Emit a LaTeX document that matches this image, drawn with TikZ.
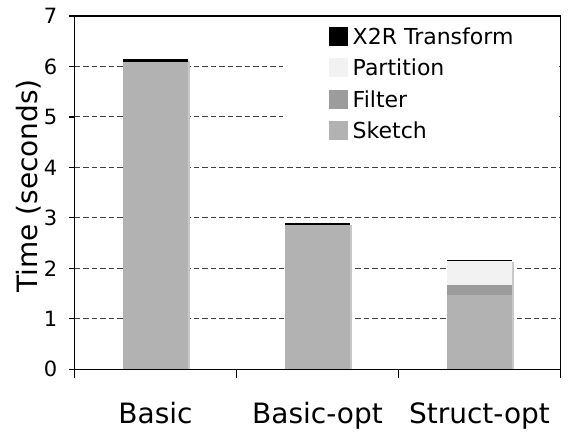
\documentclass[tikz,border=0pt]{standalone}
\usepackage{fontspec}
\setmainfont{DejaVu Sans}
\usetikzlibrary{calc}
\definecolor{sketchgray}{HTML}{B2B2B2}
\definecolor{filtergray}{HTML}{9C9C9C}
\definecolor{partgray}{HTML}{F2F2F2}
\definecolor{shadowgray}{HTML}{C8C8C8}
\tikzset{
	grid line/.style={line width=1pt, color=black!75, dash pattern=on 5.5pt off 3pt},
	axis line/.style={line width=1.2pt, color=black},
	tick label/.style={anchor=east, inner sep=0pt, font=\fontsize{21}{25}\selectfont},
	cat label/.style={anchor=base, inner sep=0pt, font=\fontsize{28}{32}\selectfont},
	key label/.style={anchor=west, inner sep=0pt, font=\fontsize{22}{26}\selectfont},
}

\begin{document}
\begin{tikzpicture}[x=162pt, y=50.47pt]
		%%%%% START %%%%%
		\useasboundingbox (-74.5pt, -62.7pt) rectangle (493.5pt, 369.3pt);
		
		% dashed grid
		\draw[grid line] (0, 1) -- (3, 1);
		\draw[grid line] (0, 2) -- (3, 2);
		\draw[grid line] (0, 3) -- (3, 3);
		\draw[grid line] (0, 4) -- (3, 4);
		\draw[grid line] (0, 5) -- (3, 5);
		\draw[grid line] (0, 6) -- (3, 6);
		
		% bar shadows
		\fill[shadowgray] ($(0.3, 0)+(2pt, 0)$) rectangle ($(0.7, 6.14)+(2pt, -2pt)$);
		\fill[shadowgray] ($(1.3, 0)+(2pt, 0)$) rectangle ($(1.7, 2.89)+(2pt, -2pt)$);
		\fill[shadowgray] ($(2.3, 0)+(2pt, 0)$) rectangle ($(2.7, 2.16)+(2pt, -2pt)$);
		
		% Basic
		\fill[sketchgray] (0.3, 0) rectangle (0.7, 6.09);
		\fill[black] (0.3, 6.09) rectangle (0.7, 6.14);
		
		% Basic-opt
		\fill[sketchgray] (1.3, 0) rectangle (1.7, 2.86);
		\fill[black] (1.3, 2.86) rectangle (1.7, 2.89);
		
		% Struct-opt
		\fill[sketchgray] (2.3, 0) rectangle (2.7, 1.47);
		\fill[filtergray] (2.3, 1.47) rectangle (2.7, 1.67);
		\fill[partgray] (2.3, 1.67) rectangle (2.7, 2.145);
		\fill[black] (2.3, 2.145) rectangle (2.7, 2.16);
		
		% key
		\fill[white] (208.5pt, 224.3pt) rectangle (484.5pt, 349.3pt);
		\fill[black] (254.8pt, 323.1pt) rectangle ++(19pt, 19pt);
		\fill[partgray] (254.8pt, 292.1pt) rectangle ++(19pt, 19pt);
		\fill[filtergray] (254.8pt, 260.5pt) rectangle ++(19pt, 19pt);
		\fill[sketchgray] (254.8pt, 229.5pt) rectangle ++(19pt, 19pt);
		\node[key label] (keyxtr) at (278pt, 332.6pt) {X2R Transform};
		\node[key label] (keypart) at (278pt, 301.6pt) {Partition};
		\node[key label] (keyfilter) at (278pt, 270pt) {Filter};
		\node[key label] (keysketch) at (278pt, 239pt) {Sketch};
		
		% frame and ticks
		\draw[axis line] (0, 0) rectangle (3, 7);
		\draw[axis line] (0, 0) -- ++(-6pt, 0);
		\draw[axis line] (0, 1) -- ++(-6pt, 0);
		\draw[axis line] (0, 2) -- ++(-6pt, 0);
		\draw[axis line] (0, 3) -- ++(-6pt, 0);
		\draw[axis line] (0, 4) -- ++(-6pt, 0);
		\draw[axis line] (0, 5) -- ++(-6pt, 0);
		\draw[axis line] (0, 6) -- ++(-6pt, 0);
		\draw[axis line] (0, 7) -- ++(-6pt, 0);
		\draw[axis line] (0, 0) -- ++(0, -9pt);
		\draw[axis line] (1, 0) -- ++(0, -9pt);
		\draw[axis line] (2, 0) -- ++(0, -9pt);
		\draw[axis line] (3, 0) -- ++(0, -9pt);
		
		% tick labels
		\node[tick label] (ytick0) at ($(0, 0)+(-17pt, 0)$) {0};
		\node[tick label] (ytick1) at ($(0, 1)+(-17pt, 0)$) {1};
		\node[tick label] (ytick2) at ($(0, 2)+(-17pt, 0)$) {2};
		\node[tick label] (ytick3) at ($(0, 3)+(-17pt, 0)$) {3};
		\node[tick label] (ytick4) at ($(0, 4)+(-17pt, 0)$) {4};
		\node[tick label] (ytick5) at ($(0, 5)+(-17pt, 0)$) {5};
		\node[tick label] (ytick6) at ($(0, 6)+(-17pt, 0)$) {6};
		\node[tick label] (ytick7) at ($(0, 7)+(-17pt, 0)$) {7};
		
		\node[rotate=90, inner sep=0pt, font=\fontsize{28}{32}\selectfont] (ylabel) at (-45.5pt, 183.3pt) {Time (seconds)};
		
		\node[cat label] (basic) at ($(0.5, 0)+(0, -54.2pt)$) {Basic};
		\node[cat label] (basicopt) at ($(1.5, 0)+(0, -54.2pt)$) {Basic-opt};
		\node[cat label] (structopt) at ($(2.5, 0)+(0, -54.2pt)$) {Struct-opt};
		
		%%%%% END %%%%%
	\end{tikzpicture}
\end{document}
